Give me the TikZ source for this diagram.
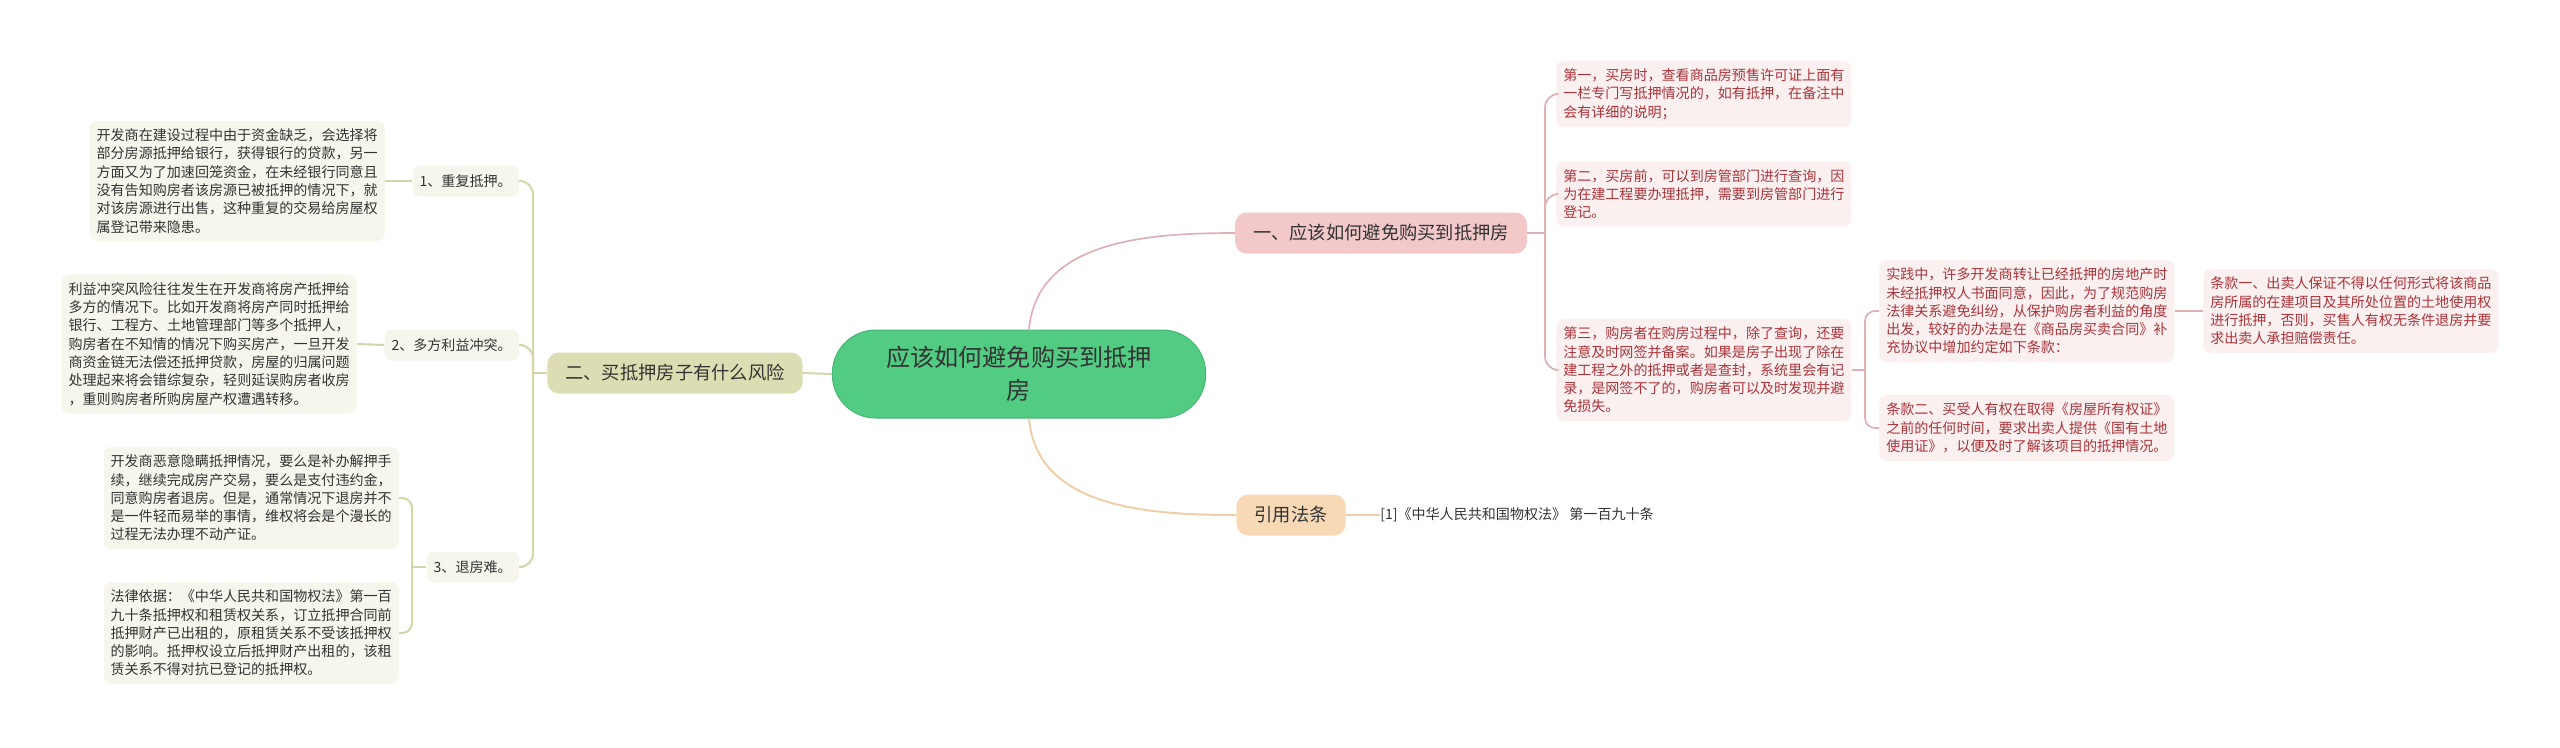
\documentclass[tikz,border=0pt]{standalone}
\usepackage{fontspec}
\setmainfont{Noto Sans CJK SC}
\definecolor{darktext}{RGB}{51,51,51}
\definecolor{redtext}{RGB}{170,52,58}
\definecolor{leftbg}{RGB}{246,246,237}
\definecolor{rightbg}{RGB}{250,240,240}
\definecolor{oliveline}{RGB}{212,213,168}
\definecolor{olivefill}{RGB}{220,221,178}
\definecolor{pinkline}{RGB}{222,176,180}
\definecolor{pinkfill}{RGB}{242,200,201}
\definecolor{peachline}{RGB}{240,206,168}
\definecolor{peachfill}{RGB}{248,217,182}
\definecolor{topicfill}{RGB}{82,204,131}
\definecolor{topicdraw}{RGB}{70,182,116}
\begin{document}
\begin{tikzpicture}[x=0.3mm,y=-0.3mm,
  leaf/.style={rounded corners=2.4mm, align=left, inner xsep=2.1mm, inner ysep=2.4mm,
    font=\fontsize{12}{15.6}\selectfont},
  leftleaf/.style={leaf, fill=leftbg, text=darktext},
  rightleaf/.style={leaf, fill=rightbg, text=redtext},
  subtopic/.style={rounded corners=2.2mm, fill=leftbg, text=darktext, inner xsep=2.1mm,
    inner ysep=0pt, minimum height=9.3mm, font=\fontsize{12}{15}\selectfont, anchor=east},
  branch/.style={rounded corners=3.5mm, inner xsep=5.4mm, inner ysep=0pt, minimum height=12.3mm,
    text=darktext, font=\fontsize{15.6}{18}\selectfont},
  oline/.style={draw=oliveline, line width=0.6mm},
  pline/.style={draw=pinkline, line width=0.5mm},
  fline/.style={draw=peachline, line width=0.6mm}]

  \useasboundingbox (0,0) rectangle (2560,747);

  % central topic
  \node[fill=topicfill, draw=topicdraw, line width=0.3mm, rounded corners=13mm,
    minimum width=112mm, minimum height=26.4mm, align=center, text=darktext,
    font=\fontsize{20.6}{28}\selectfont] (topic) at (1019,374) {应该如何避免购买到抵押\\房};

  % left side
  \node[branch, fill=olivefill] (risk) at (675,373) {二、买抵押房子有什么风险};
  \node[subtopic] (s1) at (519,181) {1、重复抵押。};
  \node[subtopic] (s2) at (519,345) {2、多方利益冲突。};
  \node[subtopic] (s3) at (519,567) {3、退房难。};

  \node[leftleaf, anchor=east] (l1) at (385,181) {开发商在建设过程中由于资金缺乏，会选择将\\
    部分房源抵押给银行，获得银行的贷款，另一\\
    方面又为了加速回笼资金，在未经银行同意且\\
    没有告知购房者该房源已被抵押的情况下，就\\
    对该房源进行出售，这种重复的交易给房屋权\\
    属登记带来隐患。};
  \node[leftleaf, anchor=east] (l2) at (357,344) {利益冲突风险往往发生在开发商将房产抵押给\\
    多方的情况下。比如开发商将房产同时抵押给\\
    银行、工程方、土地管理部门等多个抵押人，\\
    购房者在不知情的情况下购买房产，一旦开发\\
    商资金链无法偿还抵押贷款，房屋的归属问题\\
    处理起来将会错综复杂，轻则延误购房者收房\\
    ，重则购房者所购房屋产权遭遇转移。};
  \node[leftleaf, anchor=east] (l3) at (399,498) {开发商恶意隐瞒抵押情况，要么是补办解押手\\
    续，继续完成房产交易，要么是支付违约金，\\
    同意购房者退房。但是，通常情况下退房并不\\
    是一件轻而易举的事情，维权将会是个漫长的\\
    过程无法办理不动产证。};
  \node[leftleaf, anchor=east] (l4) at (399,633) {法律依据：《中华人民共和国物权法》第一百\\
    九十条抵押权和租赁权关系，订立抵押合同前\\
    抵押财产已出租的，原租赁关系不受该抵押权\\
    的影响。抵押权设立后抵押财产出租的，该租\\
    赁关系不得对抗已登记的抵押权。};

  % right side
  \node[branch, fill=pinkfill] (avoid) at (1381,233) {一、应该如何避免购买到抵押房};
  \node[branch, fill=peachfill] (law) at (1291,515) {引用法条};
  \node[anchor=west, text=darktext, inner sep=0pt, font=\fontsize{12}{15}\selectfont]
    (cite) at (1380,515) {[1]《中华人民共和国物权法》 第一百九十条};

  \node[rightleaf, anchor=west] (r1) at (1556,94) {第一，买房时，查看商品房预售许可证上面有\\
    一栏专门写抵押情况的，如有抵押，在备注中\\
    会有详细的说明；};
  \node[rightleaf, anchor=west] (r2) at (1556,194) {第二，买房前，可以到房管部门进行查询，因\\
    为在建工程要办理抵押，需要到房管部门进行\\
    登记。};
  \node[rightleaf, anchor=west] (r3) at (1556,370) {第三，购房者在购房过程中，除了查询，还要\\
    注意及时网签并备案。如果是房子出现了除在\\
    建工程之外的抵押或者是查封，系统里会有记\\
    录，是网签不了的，购房者可以及时发现并避\\
    免损失。};
  \node[rightleaf, anchor=west] (r4) at (1879,311) {实践中，许多开发商转让已经抵押的房地产时\\
    未经抵押权人书面同意，因此，为了规范购房\\
    法律关系避免纠纷，从保护购房者利益的角度\\
    出发，较好的办法是在《商品房买卖合同》补\\
    充协议中增加约定如下条款：};
  \node[rightleaf, anchor=west] (r5) at (1879,428) {条款二、买受人有权在取得《房屋所有权证》\\
    之前的任何时间，要求出卖人提供《国有土地\\
    使用证》，以便及时了解该项目的抵押情况。};
  \node[rightleaf, anchor=west] (r6) at (2203,311) {条款一、出卖人保证不得以任何形式将该商品\\
    房所属的在建项目及其所处位置的土地使用权\\
    进行抵押，否则，买售人有权无条件退房并要\\
    求出卖人承担赔偿责任。};

  % joints
  \coordinate (riskj) at (533,373);
  \coordinate (s3j) at (412,567);
  \coordinate (avoidj) at (1545,233);
  \coordinate (r3j) at (1865,370);

  % connectors, left
  \draw[oline] (topic.west) -- (risk.east);
  \draw[oline] (risk.west) -- (riskj);
  \foreach \s in {s1,s2,s3} {
    \draw[oline, rounded corners=4mm] (riskj) |- (\s.east);
  }
  \draw[oline] (s1.west) -- (l1.east);
  \draw[oline] (s2.west) -- (l2.east);
  \draw[oline] (s3.west) -- (s3j);
  \foreach \l in {l3,l4} {
    \draw[oline, rounded corners=3mm] (s3j) |- (\l.east);
  }

  % connectors, right
  \draw[pline] ([xshift=3mm]topic.north) to[out=85,in=180] (avoid.west);
  \draw[fline] ([xshift=3mm]topic.south) to[out=-85,in=180] (law.west);
  \draw[fline] (law.east) -- (cite.west);
  \draw[pline] (avoid.east) -- (avoidj);
  \foreach \r in {r1,r2,r3} {
    \draw[pline, rounded corners=4mm] (avoidj) |- (\r.west);
  }
  \draw[pline] (r3.east) -- (r3j);
  \foreach \r in {r4,r5} {
    \draw[pline, rounded corners=3mm] (r3j) |- (\r.west);
  }
  \draw[pline] (r4.east) -- (r6.west);

\end{tikzpicture}
\end{document}
